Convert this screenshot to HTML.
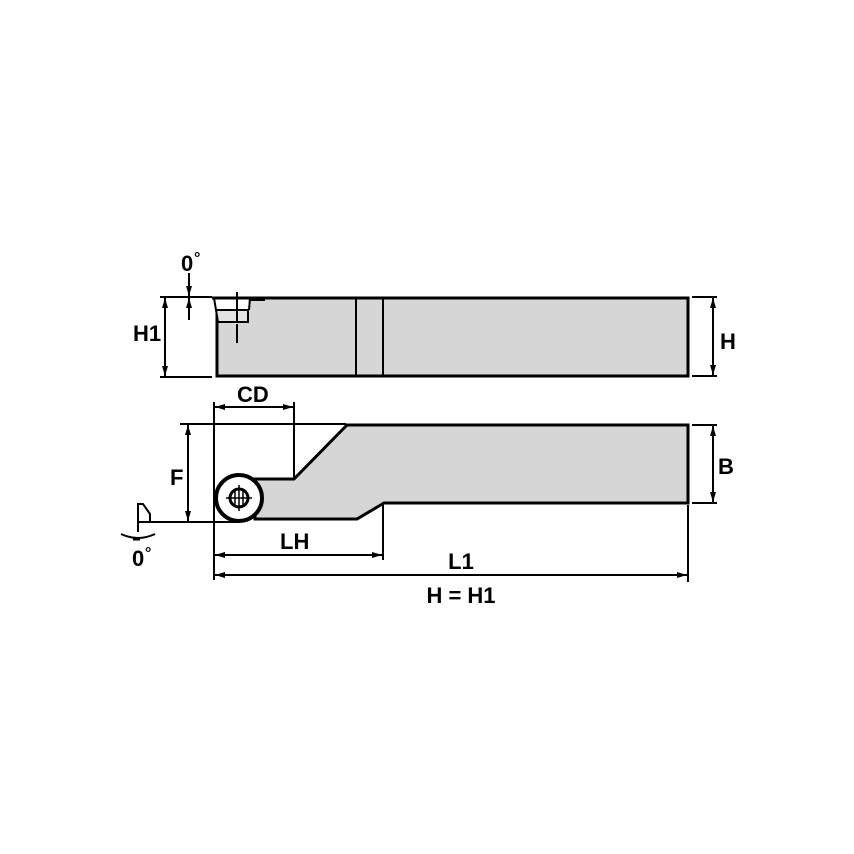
<!DOCTYPE html>
<html><head><meta charset="utf-8"><style>
html,body{margin:0;padding:0;background:#fff;}
svg{display:block}
text{font-family:"Liberation Sans",Arial,sans-serif;font-weight:bold;font-size:22px;fill:#000}
</style></head><body>
<svg width="854" height="854" viewBox="0 0 854 854" xmlns="http://www.w3.org/2000/svg">
<defs>
<marker id="a" viewBox="0 0 10 6" refX="10" refY="3" markerWidth="10" markerHeight="6" markerUnits="userSpaceOnUse" orient="auto-start-reverse"><path d="M0,0 L10,3 L0,6 Z" fill="#000"/></marker>
</defs>
<rect x="217" y="298" width="471" height="78" fill="#d6d6d6" stroke="#000" stroke-width="3"/>
<path d="M212,298 L250,298 L249,310 L248,322 L218,322 L215,310 Z" fill="#fff"/>
<path d="M216,310 L248,310 L248,322 L218,322 Z" fill="#e2e2e2" stroke="#000" stroke-width="2"/>
<path d="M214,298 L216,310" stroke="#000" stroke-width="2" fill="none"/>
<path d="M250,298 L249,310" stroke="#000" stroke-width="2" fill="none"/>
<line x1="212" y1="298" x2="265" y2="298" stroke="#000" stroke-width="3"/>
<line x1="250" y1="299" x2="265" y2="299" stroke="#000" stroke-width="4"/>
<line x1="237" y1="292" x2="237" y2="343" stroke="#000" stroke-width="2" stroke-dasharray="30,2"/>
<line x1="356" y1="298" x2="356" y2="376" stroke="#000" stroke-width="2"/>
<line x1="383" y1="298" x2="383" y2="376" stroke="#000" stroke-width="2"/>
<line x1="160" y1="297" x2="212" y2="297" stroke="#000" stroke-width="2"/>
<line x1="160" y1="377" x2="212" y2="377" stroke="#000" stroke-width="2"/>
<line x1="165" y1="298" x2="165" y2="376" stroke="#000" stroke-width="2" marker-start="url(#a)" marker-end="url(#a)"/>
<line x1="189" y1="273" x2="189" y2="296" stroke="#000" stroke-width="2" marker-end="url(#a)"/>
<line x1="189" y1="320" x2="189" y2="298" stroke="#000" stroke-width="2" marker-end="url(#a)"/>
<text x="181" y="271">0</text><text x="194" y="263" style="font-size:16px">°</text>
<text x="133" y="341">H1</text>
<line x1="692" y1="297" x2="717" y2="297" stroke="#000" stroke-width="2"/>
<line x1="692" y1="376" x2="717" y2="376" stroke="#000" stroke-width="2"/>
<line x1="713" y1="298" x2="713" y2="375" stroke="#000" stroke-width="2" marker-start="url(#a)" marker-end="url(#a)"/>
<text x="720" y="349">H</text>
<path d="M347,425 L688,425 L688,503 L384,503 L357,519 L255,519 L255,479 L294,479 Z" fill="#d6d6d6" stroke="#000" stroke-width="3"/>
<circle cx="239" cy="498" r="23" fill="#fff" stroke="#000" stroke-width="4"/>
<circle cx="239" cy="498" r="9" fill="#fff" stroke="#000" stroke-width="3"/>
<path d="M226,498 H252 M239,485 V511 M235,490 V506 M243,490 V506" stroke="#000" stroke-width="1.5"/>
<line x1="214" y1="402" x2="214" y2="580" stroke="#000" stroke-width="2"/>
<line x1="294" y1="402" x2="294" y2="479" stroke="#000" stroke-width="2"/>
<line x1="215" y1="407" x2="293" y2="407" stroke="#000" stroke-width="2" marker-start="url(#a)" marker-end="url(#a)"/>
<text x="237" y="402">CD</text>
<line x1="180" y1="424" x2="346" y2="424" stroke="#000" stroke-width="2"/>
<line x1="150" y1="522" x2="240" y2="522" stroke="#000" stroke-width="2"/>
<line x1="188" y1="425" x2="188" y2="521" stroke="#000" stroke-width="2" marker-start="url(#a)" marker-end="url(#a)"/>
<text x="170" y="485">F</text>
<path d="M138,504 L143,504 L150,514 L150,522 L138,522 Z" fill="#fff" stroke="#000" stroke-width="2"/>
<line x1="138" y1="504" x2="138" y2="532" stroke="#000" stroke-width="2"/>
<path d="M121,534 Q138,542 155,534" fill="none" stroke="#000" stroke-width="2"/>
<path d="M133,539 L140,539" stroke="#000" stroke-width="3"/>
<text x="132" y="566">0</text><text x="145" y="558" style="font-size:16px">°</text>
<line x1="692" y1="425" x2="717" y2="425" stroke="#000" stroke-width="2"/>
<line x1="692" y1="503" x2="717" y2="503" stroke="#000" stroke-width="2"/>
<line x1="713" y1="426" x2="713" y2="502" stroke="#000" stroke-width="2" marker-start="url(#a)" marker-end="url(#a)"/>
<text x="718" y="474">B</text>
<line x1="383" y1="505" x2="383" y2="560" stroke="#000" stroke-width="2"/>
<line x1="215" y1="555" x2="382" y2="555" stroke="#000" stroke-width="2" marker-start="url(#a)" marker-end="url(#a)"/>
<text x="280" y="549">LH</text>
<line x1="688" y1="505" x2="688" y2="582" stroke="#000" stroke-width="2"/>
<line x1="215" y1="575" x2="687" y2="575" stroke="#000" stroke-width="2" marker-start="url(#a)" marker-end="url(#a)"/>
<text x="461" y="569" text-anchor="middle">L1</text>
<text x="461" y="603" text-anchor="middle">H = H1</text>
</svg>
</body></html>
